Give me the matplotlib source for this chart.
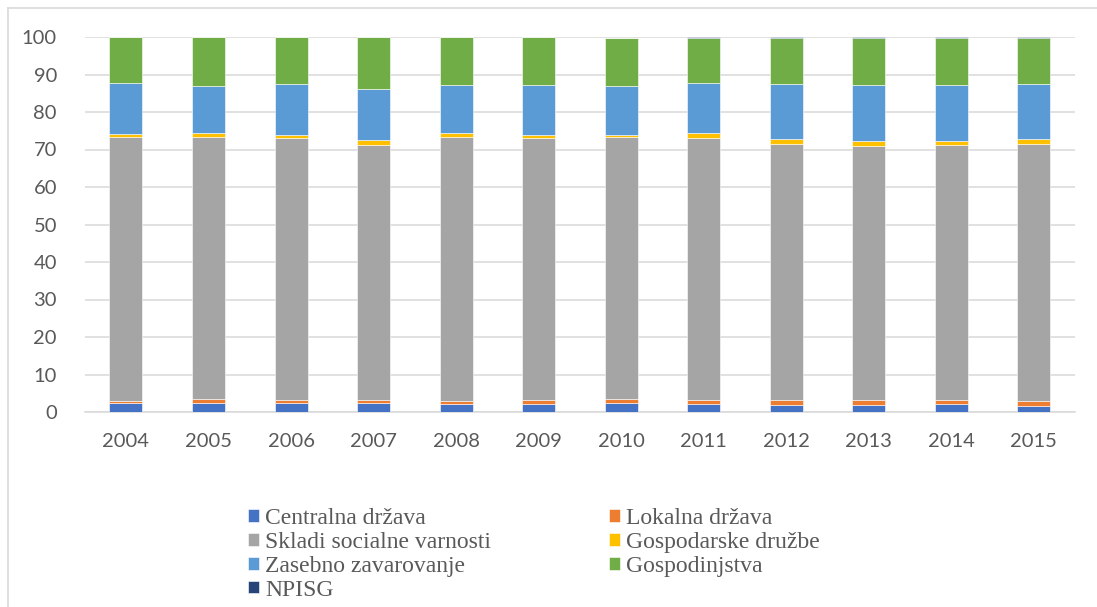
import matplotlib
matplotlib.use("Agg")
import matplotlib.pyplot as plt
from matplotlib.lines import Line2D
import numpy as np

# Struktura po sektorjih (v %), 2004-2015
years = ["2004", "2005", "2006", "2007", "2008", "2009",
         "2010", "2011", "2012", "2013", "2014", "2015"]

centralna = [2.3, 2.4, 2.3, 2.3, 2.2, 2.2, 2.3, 2.1, 2.0, 1.9, 2.1, 1.6]
lokalna = [0.7, 1.0, 1.0, 1.0, 0.7, 1.0, 1.2, 1.1, 1.2, 1.2, 1.2, 1.3]
skladi = [70.3, 70.0, 69.8, 68.0, 70.5, 69.9, 69.9, 69.9, 68.4, 67.9, 67.9, 68.7]
druzbe = [0.9, 1.1, 0.8, 1.2, 1.1, 0.8, 0.4, 1.3, 1.2, 1.2, 1.2, 1.2]
zasebno = [13.5, 12.4, 13.7, 13.7, 12.8, 13.4, 13.1, 13.3, 14.6, 15.1, 14.7, 14.6]
gospodinjstva = [12.3, 13.1, 12.4, 13.8, 12.7, 12.7, 12.8, 12.1, 12.4, 12.5, 12.7, 12.4]
npisg = [0.0, 0.0, 0.0, 0.0, 0.0, 0.0, 0.0, 0.2, 0.2, 0.2, 0.2, 0.2]

series = [
    ("Centralna država", centralna, "#4472C4"),
    ("Lokalna država", lokalna, "#ED7D31"),
    ("Skladi socialne varnosti", skladi, "#A5A5A5"),
    ("Gospodarske družbe", druzbe, "#FFC000"),
    ("Zasebno zavarovanje", zasebno, "#5B9BD5"),
    ("Gospodinjstva", gospodinjstva, "#70AD47"),
    ("NPISG", npisg, "#264478"),
]

W, H = 1097, 607
fig = plt.figure(figsize=(W / 100, H / 100), dpi=100)
fig.patch.set_facecolor("white")

# chart area frame (left and top edges)
fx, fy = 8 / W, 1 - 8 / H
fig.add_artist(Line2D([fx, fx], [0, fy], transform=fig.transFigure,
                      color="#d9d9d9", lw=1.2))
fig.add_artist(Line2D([fx, 1], [fy, fy], transform=fig.transFigure,
                      color="#d9d9d9", lw=1.2))

left, right = 84.7 / W, 1075 / W
bottom, top = 1 - 412 / H, 1 - 37 / H
ax = fig.add_axes([left, bottom, right - left, top - bottom])

x = np.arange(len(years))
base = np.zeros(len(years))
handles = []
for name, vals, col in series:
    v = np.array(vals)
    b = ax.bar(x, v, width=0.4, bottom=base, color=col, label=name,
               edgecolor="white", linewidth=0.4, zorder=3)
    handles.append(b)
    base += v

ax.set_xlim(-0.5, len(years) - 0.5)
ax.set_ylim(0, 100)
ax.set_yticks(np.arange(0, 101, 10))
ax.set_xticks(x)
ax.set_xticklabels(years)

ax.grid(axis="y", color="#d9d9d9", lw=1.1, zorder=0)
ax.set_axisbelow(True)
for s in ["left", "right", "top"]:
    ax.spines[s].set_visible(False)
ax.spines["bottom"].set_color("#d9d9d9")
ax.spines["bottom"].set_linewidth(1.1)

ax.tick_params(axis="both", length=0, labelsize=14.5, labelcolor="#595959")
ax.tick_params(axis="y", pad=20)
ax.tick_params(axis="x", pad=15)
for lab in ax.get_xticklabels() + ax.get_yticklabels():
    lab.set_fontfamily("Lato")

# legend entries laid out row by row in two columns
order = [0, 2, 4, 6, 1, 3, 5]
leg = fig.legend(handles=[handles[i] for i in order],
                 labels=[series[i][0] for i in order],
                 ncol=2, loc="upper left",
                 bbox_to_anchor=(248 / W, 1 - 508 / H),
                 frameon=False, borderpad=0, borderaxespad=0,
                 prop={"family": "Liberation Serif", "size": 17},
                 labelcolor="#595959",
                 handlelength=0.47, handleheight=0.45, handletextpad=0.25,
                 labelspacing=0.12, columnspacing=5.0)

fig.savefig("out.png", dpi=100, facecolor="white")
